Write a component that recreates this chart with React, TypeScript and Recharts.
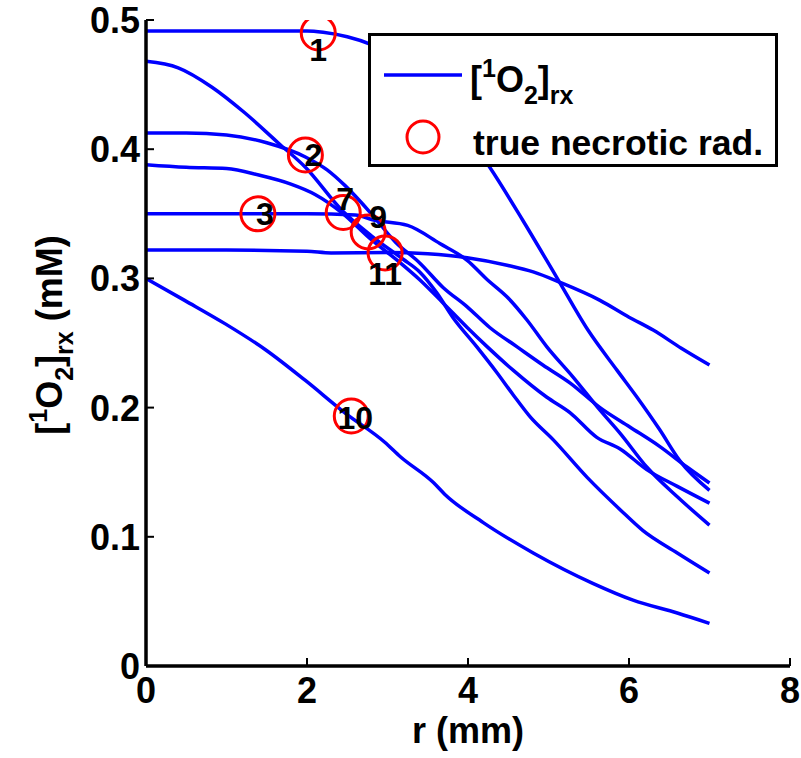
import { ComposedChart, Line, Scatter, XAxis, YAxis, Legend } from "recharts";

// [r (mm), [1O2]rx (mM)], one list per simulated case
const curve1: [number, number][] = [
  [0, 0.4915], [0.5, 0.4915], [1, 0.4915], [1.5, 0.4915], [2, 0.4915], [2.2, 0.4905],
  [2.5, 0.487], [2.8, 0.481], [3.2, 0.468], [3.6, 0.443], [4, 0.41], [4.27, 0.386],
  [4.68, 0.345], [5.1, 0.301], [5.49, 0.26], [5.85, 0.229], [6.1, 0.208], [6.38, 0.183],
  [6.63, 0.159], [7, 0.136],
];
const curve2: [number, number][] = [
  [0, 0.468], [0.4, 0.463], [0.82, 0.448], [1.23, 0.428], [1.64, 0.405], [1.98, 0.386],
  [2.43, 0.353], [2.8, 0.333], [3.19, 0.315], [3.4, 0.305], [3.61, 0.289], [3.81, 0.27],
  [4.11, 0.247], [4.36, 0.227], [4.56, 0.21], [4.77, 0.193], [5.06, 0.175], [5.48, 0.146],
  [5.89, 0.121], [6.17, 0.105], [6.6, 0.0875], [7, 0.072],
];
const curve3: [number, number][] = [
  [0, 0.4125], [0.5, 0.4125], [1, 0.411], [1.5, 0.405], [1.98, 0.394], [2.25, 0.384],
  [2.47, 0.372], [2.8, 0.35], [3.1, 0.328], [3.4, 0.312], [3.69, 0.293], [3.99, 0.278],
  [4.27, 0.262], [4.61, 0.247], [4.93, 0.233], [5.27, 0.219], [5.64, 0.2], [6.01, 0.185],
  [6.38, 0.17], [6.72, 0.154], [7, 0.1416],
];
const curve4: [number, number][] = [
  [0, 0.388], [0.5, 0.386], [1, 0.385], [1.4, 0.38], [1.8, 0.373], [2.1, 0.365],
  [2.43, 0.351], [2.8, 0.33], [3.16, 0.312], [3.4, 0.299], [3.69, 0.281], [3.99, 0.262],
  [4.24, 0.247], [4.56, 0.229], [4.98, 0.208], [5.27, 0.196], [5.6, 0.177], [5.89, 0.168],
  [6.22, 0.152], [6.6, 0.139], [7, 0.126],
];
const curve5: [number, number][] = [
  [0, 0.35], [1, 0.35], [2, 0.35], [2.6, 0.349], [2.84, 0.345], [3.25, 0.341],
  [3.65, 0.327], [3.99, 0.314], [4.24, 0.299], [4.48, 0.286], [4.73, 0.268], [4.98, 0.247],
  [5.3, 0.224], [5.64, 0.198], [5.89, 0.18], [6.22, 0.154], [6.6, 0.131], [7, 0.109],
];
const curve6: [number, number][] = [
  [0, 0.322], [1, 0.322], [2, 0.321], [2.3, 0.3197], [3, 0.32], [3.5, 0.319], [3.99, 0.316],
  [4.5, 0.31], [4.81, 0.305], [5.14, 0.297], [5.64, 0.283], [6, 0.27], [6.3, 0.26],
  [6.65, 0.246], [7, 0.233],
];
const curve7: [number, number][] = [
  [0, 0.3], [0.48, 0.283], [0.98, 0.265], [1.48, 0.245], [1.98, 0.221], [2.47, 0.196],
  [2.97, 0.173], [3.16, 0.162], [3.57, 0.142], [3.71, 0.133], [4.19, 0.111], [4.81, 0.0875],
  [5.55, 0.064], [6.05, 0.051], [6.6, 0.041], [7, 0.033],
];
const curves = [curve1, curve2, curve3, curve4, curve5, curve6, curve7];

// true necrotic radius markers
const necroR = [2.14, 1.98, 1.39, 2.45, 2.76, 2.97, 2.55];
const necroC = [0.49, 0.3955, 0.35, 0.351, 0.336, 0.3197, 0.1935];
const necroLabel = ["1", "2", "3", "7", "9", "11", "10"];

const xTicks = [0, 2, 4, 6, 8];
const yTicks = [0, 0.1, 0.2, 0.3, 0.4, 0.5];

// where each number sits relative to its circle (px)
const labelOffset: [number, number][] = [[0, 17], [8, 0], [7, 0], [2, -14], [10, -15], [0, 21], [4, 2]];

const FONT = "'Liberation Sans', Arial, Helvetica, sans-serif";
const BLUE = "#0000ff";
const RED = "#ff0000";
const TICK = 8;

const BottomTick = ({ x, y, payload }: any) => (
  <g>
    <line x1={x} y1={y} x2={x} y2={y - TICK} stroke="#000" strokeWidth={2} />
    <text x={x} y={y + 37} textAnchor="middle" fontFamily={FONT} fontWeight="bold" fontSize={36} fill="#000">
      {payload.value}
    </text>
  </g>
);
const LeftTick = ({ x, y, payload }: any) => (
  <g>
    <line x1={x} y1={y} x2={x + TICK} y2={y} stroke="#000" strokeWidth={2} />
    <text x={x - 6} y={y + 13} textAnchor="end" fontFamily={FONT} fontWeight="bold" fontSize={36} fill="#000">
      {payload.value}
    </text>
  </g>
);
const TopTick = ({ x, y }: any) => <line x1={x} y1={y} x2={x} y2={y + TICK} stroke="#000" strokeWidth={2} />;
const RightTick = ({ x, y }: any) => <line x1={x} y1={y} x2={x - TICK} y2={y} stroke="#000" strokeWidth={2} />;

const NecroMark = ({ cx, cy, payload }: any) => {
  const [dx, dy] = labelOffset[payload.i];
  return (
    <g>
      <circle cx={cx} cy={cy} r={17} fill="none" stroke={RED} strokeWidth={3} />
      <text x={cx + dx} y={cy + dy} textAnchor="middle" dominantBaseline="central"
        fontFamily={FONT} fontWeight="bold" fontSize={32} fill="#000">
        {payload.label}
      </text>
    </g>
  );
};

const YLabel = ({ viewBox }: any) => {
  const cx = viewBox.x + 62;
  const cy = viewBox.y + viewBox.height / 2 - 8;
  return (
    <text transform={`translate(${cx},${cy}) rotate(-90)`} textAnchor="middle"
      fontFamily={FONT} fontWeight="bold" fontSize={36} fill="#000">
      [<tspan fontSize={25} dy={-15}>1</tspan>
      <tspan dy={15}>O</tspan>
      <tspan fontSize={25} dy={11}>2</tspan>
      <tspan dy={-11}>]</tspan>
      <tspan fontSize={25} dy={11}>rx</tspan>
      <tspan dy={-11}> (mM)</tspan>
    </text>
  );
};

const XLabel = ({ viewBox }: any) => (
  <text x={viewBox.x + viewBox.width / 2} y={743} textAnchor="middle"
    fontFamily={FONT} fontWeight="bold" fontSize={36} fill="#000">
    r (mm)
  </text>
);

const LegendBox = () => (
  <svg width={410} height={134} style={{ display: "block" }}>
    <rect x={1.5} y={1.5} width={407} height={131} fill="#fff" stroke="#000" strokeWidth={3} />
    <line x1={16} y1={42} x2={94} y2={42} stroke={BLUE} strokeWidth={3.5} />
    <text x={102} y={59} fontFamily={FONT} fontWeight="bold" fontSize={36} fill="#000">
      [<tspan fontSize={25} dy={-15}>1</tspan>
      <tspan dy={15}>O</tspan>
      <tspan fontSize={25} dy={12}>2</tspan>
      <tspan dy={-12}>]</tspan>
      <tspan fontSize={25} dy={12}>rx</tspan>
    </text>
    <circle cx={55} cy={104} r={16} fill="none" stroke={RED} strokeWidth={3} />
    <text x={105} y={122} fontFamily={FONT} fontWeight="bold" fontSize={35.5} fill="#000">
      true necrotic rad.
    </text>
  </svg>
);

export default function App() {
  const necroPts = necroR.map((r, i) => ({ r, c: necroC[i], label: necroLabel[i], i }));
  return (
    <div style={{ background: "#fff", width: 801, height: 758 }}>
      <style>{`body{margin:0}`}</style>
      <ComposedChart width={801} height={758} margin={{ top: 20, right: 11, bottom: 0, left: 0 }}>
        <XAxis xAxisId={0} dataKey="r" type="number" domain={[0, 8]} ticks={xTicks} allowDataOverflow
          height={92} tickSize={0} tickMargin={0} tick={BottomTick}
          axisLine={{ stroke: "#000", strokeWidth: 3.5 }} label={<XLabel />} />
        <XAxis xAxisId="top" orientation="top" type="number" domain={[0, 8]} ticks={xTicks} allowDataOverflow
          height={0} tickSize={0} tickMargin={0} tick={TopTick}
          axisLine={{ stroke: "#000", strokeWidth: 3.5 }} />
        <YAxis yAxisId={0} dataKey="c" type="number" domain={[0, 0.5]} ticks={yTicks} allowDataOverflow
          width={146} tickSize={0} tickMargin={0} tick={LeftTick}
          axisLine={{ stroke: "#000", strokeWidth: 3.5 }} label={<YLabel />} />
        <YAxis yAxisId="right" orientation="right" type="number" domain={[0, 0.5]} ticks={yTicks} allowDataOverflow
          width={0} tickSize={0} tickMargin={0} tick={RightTick}
          axisLine={{ stroke: "#000", strokeWidth: 3.5 }} />
        {curves.map((pts, k) => (
          <Line key={k} xAxisId={0} yAxisId={0} data={pts.map(([r, c]) => ({ r, c }))} dataKey="c"
            type="monotone" stroke={BLUE} strokeWidth={3.5} dot={false} activeDot={false}
            isAnimationActive={false} legendType="none" />
        ))}
        <Scatter xAxisId={0} yAxisId={0} data={necroPts} dataKey="c" shape={NecroMark}
          isAnimationActive={false} legendType="none" />
        <Legend layout="vertical" align="center" verticalAlign="middle" content={() => <LegendBox />}
          wrapperStyle={{ position: "absolute", left: 368, top: 33, width: 410, height: 134 }} />
      </ComposedChart>
    </div>
  );
}
